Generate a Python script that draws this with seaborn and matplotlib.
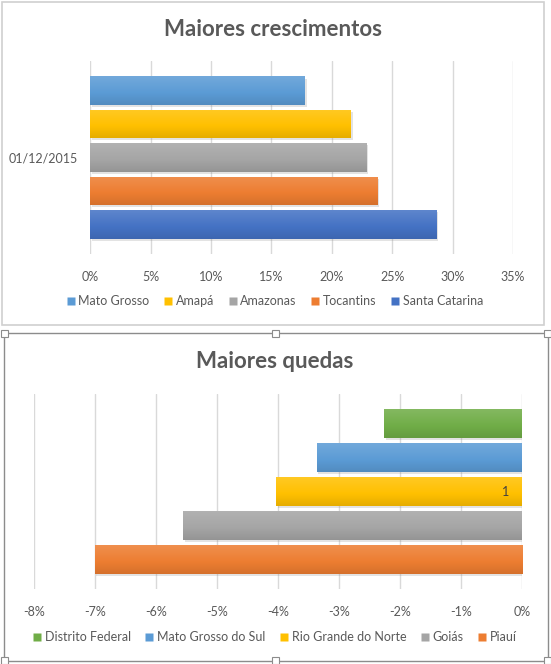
import matplotlib
matplotlib.use("Agg")
import matplotlib.pyplot as plt
from matplotlib.patches import Rectangle
from matplotlib.ticker import FuncFormatter
import matplotlib.patheffects as pe
from matplotlib.colors import to_rgb
import numpy as np
import seaborn as sns
import pandas as pd

# ---------------- data ----------------
category = ["01/12/2015"]

top_states = ["Mato Grosso", "Amapá", "Amazonas", "Tocantins", "Santa Catarina"]
top_values = [17.8, 21.6, 22.9, 23.8, 28.7]          # %
top_colors = ["#5B9BD5", "#FFC000", "#A5A5A5", "#ED7D31", "#4472C4"]
top_ticks = [0, 5, 10, 15, 20, 25, 30, 35]

bot_states = ["Distrito Federal", "Mato Grosso do Sul", "Rio Grande do Norte", "Goiás", "Piauí"]
bot_values = [-2.25, -3.36, -4.02, -5.55, -7.00]     # %
bot_colors = ["#70AD47", "#5B9BD5", "#FFC000", "#A5A5A5", "#ED7D31"]
bot_ticks = [-8, -7, -6, -5, -4, -3, -2, -1, 0]
bot_label_state = "Rio Grande do Norte"
bot_label_text = "1"

title_top = "Maiores crescimentos"
title_bot = "Maiores quedas"

# ---------------- style ----------------
sns.set_theme(style="white")
plt.rcParams['font.family'] = ['Lato', 'DejaVu Sans']
TXT = "#595959"
GRID = "#D9D9D9"

W, H = 551, 664
fig = plt.figure(figsize=(W / 100, H / 100), dpi=100)
fig.patch.set_facecolor("white")


def px_rect(x0, y0, x1, y1):
    return [x0 / W, 1 - y1 / H, (x1 - x0) / W, (y1 - y0) / H]


def pct(v, _):
    return f"{int(round(v))}%"


def shade(c, f):
    c = np.array(to_rgb(c))
    if f >= 0:
        return c + (1 - c) * f
    return c * (1 + f)


def draw_panel(ax, states, values, colors, ticks, xlim, ylim, ylabel_cat):
    df = pd.DataFrame({"cat": category * len(states), "state": states, "value": values})
    sns.barplot(data=df, x="value", y="cat", hue="state", hue_order=states,
                palette=colors, orient="h", dodge=True, gap=0.15, width=0.8,
                saturation=1, legend=False, ax=ax, zorder=3, edgecolor="none")
    # gradient fill + soft shadow, as in the Excel style
    for p in ax.patches:
        fc = p.get_facecolor()
        p.set_path_effects([pe.SimplePatchShadow(offset=(1.0, -1.5), shadow_rgbFace="#909090",
                                                 alpha=0.25), pe.Normal()])
        x0, y0, w, h = p.get_x(), p.get_y(), p.get_width(), p.get_height()
        t = np.linspace(0, 1, 64)
        grad = np.array([shade(fc, 0.14 - 0.24 * tt) for tt in t])[:, None, :]
        grad = np.clip(grad, 0, 1)
        im = ax.imshow(grad, extent=(x0, x0 + w, y0 + h, y0), origin="upper",
                       aspect="auto", interpolation="bilinear", zorder=3.5)
        im.set_clip_path(p)
    ax.set_xlim(*xlim)
    ax.set_ylim(*ylim)
    ax.set_xticks(ticks)
    ax.xaxis.set_major_formatter(FuncFormatter(pct))
    ax.grid(axis="x", color=GRID, linewidth=1, zorder=0)
    ax.grid(axis="y", visible=False)
    for s in ax.spines.values():
        s.set_visible(False)
    ax.set_xlabel("")
    ax.set_ylabel("")
    ax.tick_params(axis="x", length=0, pad=12, labelsize=9, labelcolor=TXT)
    ax.tick_params(axis="y", length=0, pad=9, labelsize=9, labelcolor=TXT)
    if not ylabel_cat:
        ax.set_yticklabels([""])
    ax.set_facecolor("none")


# chart frames
fig.add_artist(Rectangle((2 / W, 1 - 325 / H), 542 / W, 323 / H, transform=fig.transFigure,
                         facecolor="white", edgecolor="#D0D0D0", linewidth=1.2, zorder=0))
fig.add_artist(Rectangle((4 / W, 1 - 661 / H), 544 / W, 328 / H, transform=fig.transFigure,
                         facecolor="white", edgecolor="#8C8C8C", linewidth=1.0, zorder=0))
for hx, hy in [(4, 333), (275, 333), (547, 333), (4, 661), (275, 661), (547, 661)]:
    fig.add_artist(Rectangle(((hx - 3.5) / W, 1 - (hy + 3.5) / H), 7 / W, 7 / H,
                             transform=fig.transFigure, facecolor="white",
                             edgecolor="#8C8C8C", linewidth=0.8, zorder=5))

# top panel
ax1 = fig.add_axes(px_rect(90.3, 61, 513, 254))
draw_panel(ax1, top_states, top_values, top_colors, top_ticks, (0, 35), (0.462, -0.462), True)

# bottom panel
ax2 = fig.add_axes(px_rect(33.7, 394, 521.7, 589))
draw_panel(ax2, bot_states, bot_values, bot_colors, bot_ticks, (-8, 0), (0.46, -0.46), False)

# data label
for p, st in zip(ax2.patches, bot_states):
    if st == bot_label_state:
        yc = p.get_y() + p.get_height() / 2
        ax2.annotate(bot_label_text, xy=(0, yc), xytext=(-9, 0), textcoords="offset points",
                     ha="right", va="center", fontsize=9, color="#404040", zorder=6)

# titles
fig.text(273 / W, 1 - 30 / H, title_top, ha="center", va="center", fontsize=16,
         fontweight="bold", color=TXT)
fig.text(275 / W, 1 - 362 / H, title_bot, ha="center", va="center", fontsize=16,
         fontweight="bold", color=TXT)


# legends
def legend(states, colors, y):
    handles = [plt.Line2D([], [], marker="s", linestyle="none", markersize=6,
                          markerfacecolor=c, markeredgecolor="none", label=s)
               for s, c in zip(states, colors)]
    fig.legend(handles=handles, loc="center", bbox_to_anchor=(275 / W, 1 - y / H),
               ncol=len(states), frameon=False, fontsize=9, labelcolor=TXT,
               handlelength=0.6, handletextpad=0.3, columnspacing=1.2, borderaxespad=0)


legend(top_states, top_colors, 301)
legend(bot_states, bot_colors, 637)

fig.savefig("out.png", dpi=100, facecolor="white")
